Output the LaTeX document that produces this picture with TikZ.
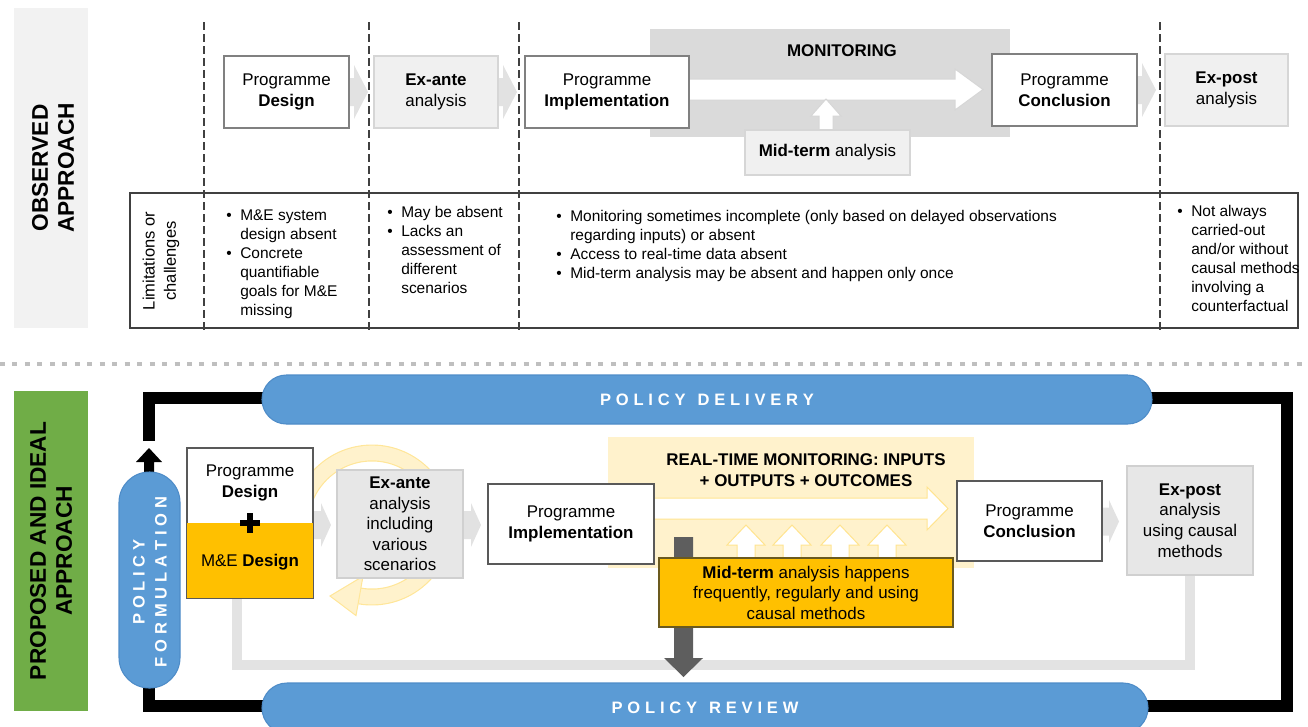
\documentclass[tikz,border=0pt]{standalone}
\usepackage{fontspec}
\setmainfont{Liberation Sans}
\usetikzlibrary{calc}

\definecolor{bandgray}{HTML}{F2F2F2}
\definecolor{monigray}{HTML}{DADADA}
\definecolor{boxborder}{HTML}{808080}
\definecolor{lightbox}{HTML}{F0F0F0}
\definecolor{lightborder}{HTML}{D6D6D6}
\definecolor{arrowgray}{HTML}{E2E2E2}
\definecolor{dashcol}{HTML}{404040}
\definecolor{limborder}{HTML}{404040}
\definecolor{sepgray}{HTML}{BFBFBF}
\definecolor{mygreen}{HTML}{70AD47}
\definecolor{pblue}{HTML}{5B9BD5}
\definecolor{pblueborder}{HTML}{4E8CC8}
\definecolor{gold}{HTML}{FFC000}
\definecolor{paleyellow}{HTML}{FFF2CC}
\definecolor{yellowline}{HTML}{FFE48F}
\definecolor{ringfill}{HTML}{FFF2CC}
\definecolor{ringedge}{HTML}{FFE699}
\definecolor{darkarrow}{HTML}{5E5E5E}
\definecolor{feedback}{HTML}{E3E3E3}
\definecolor{darkborder}{HTML}{595959}
\definecolor{botlightfill}{HTML}{E7E7E7}
\definecolor{botlightborder}{HTML}{D0D0D0}
\definecolor{midborder}{HTML}{6B5A1E}

\newcommand\boxfont{\fontsize{12.7}{15.4}\selectfont}
\newcommand\limfont{\fontsize{11.6}{14.2}\selectfont}
\newcommand\limlabelfont{\fontsize{12.4}{16}\selectfont}
\newcommand\bandfont{\fontsize{17}{19.5}\selectfont\bfseries}
\newcommand\pillfont{\fontsize{12.4}{16.5}\selectfont\bfseries}
\newcommand\bul{\makebox[10.5pt][l]{\textbullet}}
\def\spx#1{\ifx#1\relax\else#1\kern3.6pt\expandafter\spx\fi}
\newcommand\spaced[1]{\spx#1\relax\kern-3.6pt}

\tikzset{
  sz/.style 2 args={minimum width=#1*0.75pt, minimum height=#2*0.75pt},
  topbox/.style={draw=boxborder, line width=0.9pt, fill=white, inner sep=0pt, align=center, font=\boxfont},
  toplight/.style={draw=lightborder, line width=0.9pt, fill=lightbox, inner sep=0pt, align=center, font=\boxfont},
  botbox/.style={draw=darkborder, line width=1.1pt, fill=white, inner sep=0pt, align=center, font=\boxfont},
  botlight/.style={draw=botlightborder, line width=0.9pt, fill=botlightfill, inner sep=0pt, align=center, font=\boxfont},
  txt/.style={inner sep=0pt, align=center, font=\boxfont},
  divider/.style={dashcol, dash pattern=on 6pt off 3pt, line width=1pt},
  lim/.style={font=\limfont, inner sep=0pt, anchor=north west},
  pill/.style={fill=pblue, draw=pblueborder, line width=0.8pt, text=white, font=\pillfont, inner sep=0pt},
  loopline/.style={line width=9pt, black},
  garrow/.style={fill=arrowgray},
  yarrow/.style={fill=white, draw=yellowline, line width=0.75pt},
  sepline/.style={sepgray, line width=3pt, dash pattern=on 3.75pt off 5.6pt},
}

\begin{document}
\begin{tikzpicture}[x=0.75pt, y=-0.75pt]
\useasboundingbox (0,0) rectangle (1308,726);

% ================= OBSERVED APPROACH =================
\fill[bandgray] (14,8) rectangle (88,328);
\node[rotate=90, font=\bandfont, align=center] (obs) at (53,168) {OBSERVED\\APPROACH};

\node[fill=monigray, sz={360}{108}, inner sep=0pt] (moni) at (830,83) {};
\node[font=\boxfont\bfseries, inner sep=0pt] (monilbl) at (842,51) {MONITORING};

% gray chevrons (top)
\fill[garrow] (340,78) -- (354,78) -- (354,65) -- (368,92) -- (354,119) -- (354,106) -- (340,106) -- cycle;
\fill[garrow] (490,78) -- (503,78) -- (503,65) -- (517,92) -- (503,119) -- (503,106) -- (490,106) -- cycle;
\fill[garrow] (1130,76) -- (1142,76) -- (1142,63) -- (1156,90) -- (1142,117) -- (1142,104) -- (1130,104) -- cycle;

% big white monitoring arrow and mid-term arrow
\draw[fill=white, draw=lightborder, line width=0.75pt] (689,79) -- (955,79) -- (955,69) -- (983,89.5) -- (955,110) -- (955,100) -- (689,100) -- cycle;
\draw[fill=white, draw=lightborder, line width=0.75pt] (826,99) -- (841,116) -- (833,116) -- (833,131) -- (819,131) -- (819,116) -- (811,116) -- cycle;

\node[topbox, sz={125}{72}] (tdesign) at (286.5,92) {Programme\\\textbf{Design}};
\node[toplight, sz={124}{72}] (texante) at (436,92) {\textbf{Ex-ante}\\analysis};
\node[topbox, sz={164}{72}] (timpl) at (607,92) {Programme\\\textbf{Implementation}};
\node[topbox, sz={145}{72}] (tconc) at (1064.5,90) {Programme\\\textbf{Conclusion}};
\node[toplight, sz={123}{72}] (texpost) at (1226.5,90) {\textbf{Ex-post}\\analysis};
\node[toplight, sz={165}{45}] (tmid) at (827.5,152.5) {\textbf{Mid-term} analysis};

% limitations box
\node[draw=limborder, line width=1pt, fill=white, sz={1168}{135}, inner sep=0pt] (limbox) at (714,260.5) {};
\draw[divider] (204,22) -- (204,331);
\draw[divider] (369,22) -- (369,331);
\draw[divider] (519,22) -- (519,331);
\draw[divider] (1160,22) -- (1160,331);

\node[rotate=90, font=\limlabelfont, align=center, inner sep=0pt] (limlbl) at (161,261) {Limitations or\\challenges};
\node[lim] (lim1) at (226,207) {\begin{tabular}{@{}l@{}l@{}}\bul&M\&E system\\&design absent\\\bul&Concrete\\&quantifiable\\&goals for M\&E\\&missing\end{tabular}};
\node[lim] (lim2) at (387,204) {\begin{tabular}{@{}l@{}l@{}}\bul&May be absent\\\bul&Lacks an\\&assessment of\\&different\\&scenarios\end{tabular}};
\node[lim] (lim3) at (556,208) {\begin{tabular}{@{}l@{}l@{}}\bul&Monitoring sometimes incomplete (only based on delayed observations\\&regarding inputs) or absent\\\bul&Access to real-time data absent\\\bul&Mid-term analysis may be absent and happen only once\end{tabular}};
\node[lim] (lim4) at (1177,203) {\begin{tabular}{@{}l@{}l@{}}\bul&Not always\\&carried-out\\&and/or without\\&causal methods\\&involving a\\&counterfactual\end{tabular}};

% separator
\draw[sepline] (0,364) -- (1308,364);

% ================= PROPOSED AND IDEAL APPROACH =================
\fill[mygreen] (14,391) rectangle (88,711);
\node[rotate=90, font=\bandfont, align=center] (prop) at (51,551) {PROPOSED AND IDEAL\\APPROACH};

% light gray feedback line
\draw[feedback, line width=7.5pt] (237,590) -- (237,665) -- (1190,665) -- (1190,570);

% black loop
\draw[loopline] (149,441) |- (1287,397.5) |- (149,706) -- (149,680);
\fill[black] (149,448) -- (162,462) -- (154,462) -- (154,474) -- (144,474) -- (144,462) -- (136,462) -- cycle;

% pills
\node[pill, sz={890}{49}, rounded corners=18.3pt] (delivery) at (707,399.5) {\spaced{POLICY}\hspace{9pt}\spaced{DELIVERY}};
\node[pill, sz={886}{50}, rounded corners=18.7pt] (review) at (705,708) {\spaced{POLICY}\hspace{9pt}\spaced{REVIEW}};
\node[pill, sz={61}{216}, rounded corners=22.8pt] (formul) at (149.5,580) {};
\node[rotate=90, font=\pillfont, text=white, align=center, inner sep=0pt] (formlbl) at (150,582) {\spaced{POLICY}\\\spaced{FORMULATION}};

% yellow cycle ring around ex-ante
\draw[ringedge, line width=12.75pt] (372,525) ++(175:72) arc (175:460:72);
\draw[ringfill, line width=11pt] (372,525) ++(175:72) arc (175:461:72);
\filldraw[fill=ringfill, draw=ringedge, line width=0.75pt] (356,615.6) -- (330,596) -- (363,576.2) -- cycle;

% monitoring band
\fill[paleyellow] (608,437) rectangle (974,568);
\node[font=\boxfont\bfseries, align=center, inner sep=0pt] (rtlbl) at (806,470) {REAL-TIME MONITORING: INPUTS\\+ OUTPUTS + OUTCOMES};

% gray chevrons (bottom)
\fill[garrow] (305,511) -- (321,511) -- (321,503) -- (331,525) -- (321,547) -- (321,539) -- (305,539) -- cycle;
\fill[garrow] (455,511) -- (471,511) -- (471,503) -- (481,525) -- (471,547) -- (471,539) -- (455,539) -- cycle;
\fill[garrow] (1095,507.5) -- (1109,507.5) -- (1109,500) -- (1119,521.5) -- (1109,543) -- (1109,535.5) -- (1095,535.5) -- cycle;

% white monitoring arrow
\draw[yarrow] (654,498) -- (927,498) -- (927,487) -- (948,508.5) -- (927,530) -- (927,519) -- (654,519) -- cycle;
% small up arrows
\foreach \ux in {746,792,840,887}{
  \draw[yarrow] (\ux,525) -- (\ux+19,545) -- (\ux+9,545) -- (\ux+9,562) -- (\ux-9,562) -- (\ux-9,545) -- (\ux-19,545) -- cycle;
}
% dark down arrow
\fill[darkarrow] (674,537) -- (693,537) -- (693,658) -- (703,658) -- (683.5,677) -- (664,658) -- (674,658) -- cycle;

% bottom boxes
\node[botbox, sz={126}{150}] (bdesign) at (250,523) {};
\fill[gold] (bdesign.west) rectangle (bdesign.south east);
\draw[darkborder, line width=1.1pt] (bdesign.south west) rectangle (bdesign.north east);
\node[txt] (designlbl) at (250,483) {Programme\\\textbf{Design}};
\node[txt] (melbl) at (250,562) {M\&E \textbf{Design}};
\draw[black, line width=4.5pt] (240,523) -- (260,523) (250,513) -- (250,533);

\node[botlight, sz={126}{108}] (bexante) at (400,524) {\textbf{Ex-ante}\\analysis\\including\\various\\scenarios};
\node[botbox, sz={166}{80}] (bimpl) at (571,524) {Programme\\\textbf{Implementation}};
\node[draw=midborder, line width=1.1pt, fill=gold, sz={294}{69}, txt] (bmid) at (806,592.5) {\textbf{Mid-term} analysis happens\\frequently, regularly and using\\causal methods};
\node[botbox, sz={145}{80}] (bconc) at (1029.5,521) {Programme\\\textbf{Conclusion}};
\node[botlight, sz={126}{109}] (bexpost) at (1190,520.5) {\textbf{Ex-post}\\analysis\\using causal\\methods};

\end{tikzpicture}
\end{document}
